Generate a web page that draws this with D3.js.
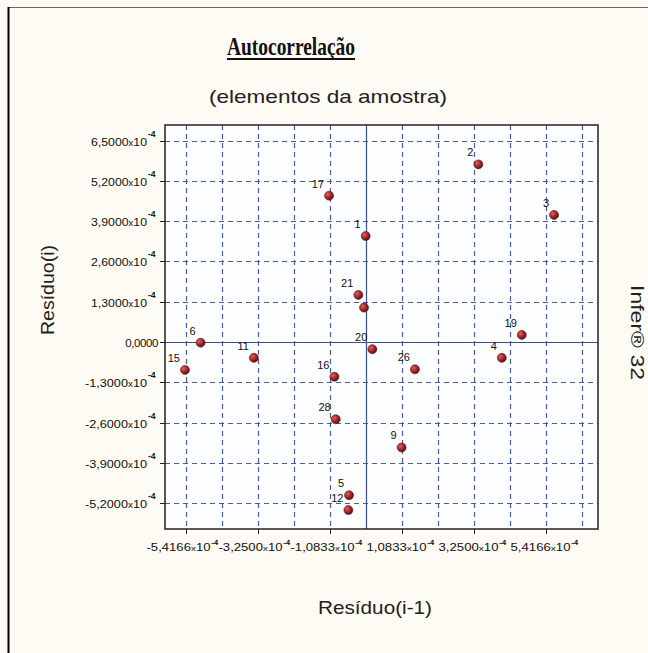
<!DOCTYPE html>
<html><head><meta charset="utf-8">
<script src="https://cdn.jsdelivr.net/npm/d3@7"></script>
<style>html,body{margin:0;padding:0;background:#fdfbf3;}svg{display:block;}</style>
</head><body>
<svg id="c" width="648" height="653"></svg>
<script>
// values in units of 1e-4
const labels = ["1","2","3","4","5","6","9","11","12","15","16","17","19","20","21","","26","28"];
const xVals  = [-0.01,3.375,5.65,4.08,-0.51,-4.97,1.07,-3.37,-0.53,-5.44,-0.95,-1.11,4.68,0.19,-0.23,-0.06,1.47,-0.91];
const yVals  = [3.42,5.73,4.10,-0.51,-4.94,-0.02,-3.40,-0.51,-5.42,-0.90,-1.12,4.72,0.23,-0.23,1.52,1.11,-0.88,-2.49];
const yTicks = [-5.2,-3.9,-2.6,-1.3,0,1.3,2.6,3.9,5.2,6.5];
const yTickText = ["-5,2000","-3,9000","-2,6000","-1,3000","0,0000","1,3000","2,6000","3,9000","5,2000","6,5000"];
const xTicks = [-5.4166,-3.25,-1.0833,1.0833,3.25,5.4166];
const xTickText = ["-5,4166","-3,2500","-1,0833","1,0833","3,2500","5,4166"];
const xGrid = [-5.4166,-4.3333,-3.25,-2.1666,-1.0833,1.0833,2.1666,3.25,4.3333,5.4166,6.5];

const svg = d3.select("#c");
const L=165,R=598,T=125,B=529;
const x = d3.scaleLinear().domain([-6.04,6.97]).range([L,R]);
const y = d3.scaleLinear().domain([-6.03,7.0]).range([B,T]);
const gridCol="#4b5b9c";

// frame
svg.append("line").attr("x1",8).attr("x2",648).attr("y1",7.5).attr("y2",7.5).attr("stroke","#666").attr("stroke-width",1);
svg.append("line").attr("x1",8.5).attr("x2",8.5).attr("y1",7).attr("y2",653).attr("stroke","#000").attr("stroke-width",2);

const defs=svg.append("defs");
const g=defs.append("radialGradient").attr("id","ball").attr("cx","35%").attr("cy","35%").attr("r","65%");
g.append("stop").attr("offset","0%").attr("stop-color","#e06060");
g.append("stop").attr("offset","55%").attr("stop-color","#a52a2e");
g.append("stop").attr("offset","100%").attr("stop-color","#5e1215");

// title
svg.append("text").attr("x",227).attr("y",55)
 .attr("font-family","Liberation Serif, serif").attr("font-weight","bold").attr("font-size",25).attr("fill","#111")
 .attr("textLength",128).attr("lengthAdjust","spacingAndGlyphs").text("Autocorrelação");
svg.append("rect").attr("x",227).attr("y",58).attr("width",128).attr("height",2).attr("fill","#111");
svg.append("text").attr("x",209).attr("y",103)
 .attr("font-family","Liberation Sans, Arial, sans-serif").attr("font-size",19).attr("fill","#222")
 .attr("textLength",238).attr("lengthAdjust","spacingAndGlyphs").text("(elementos da amostra)");

// plot bg
svg.append("rect").attr("x",L).attr("y",T).attr("width",R-L).attr("height",B-T).attr("fill","#fcfdff");

// grid
svg.append("g").selectAll("line").data(yTicks.filter(d=>d!==0)).join("line")
 .attr("x1",L).attr("x2",R).attr("y1",d=>Math.round(y(d))+0.5).attr("y2",d=>Math.round(y(d))+0.5)
 .attr("stroke",gridCol).attr("stroke-width",1.2).attr("stroke-dasharray","5,4");
svg.append("g").selectAll("line").data(xGrid).join("line")
 .attr("y1",T).attr("y2",B).attr("x1",d=>Math.round(x(d))+0.5).attr("x2",d=>Math.round(x(d))+0.5)
 .attr("stroke",gridCol).attr("stroke-width",1.2).attr("stroke-dasharray","5,4");
// zero axes
svg.append("line").attr("x1",L).attr("x2",R).attr("y1",Math.round(y(0))+0.5).attr("y2",Math.round(y(0))+0.5).attr("stroke","#3d4f90").attr("stroke-width",1.2);
svg.append("line").attr("y1",T).attr("y2",B).attr("x1",Math.round(x(0))+0.5).attr("x2",Math.round(x(0))+0.5).attr("stroke","#3d4f90").attr("stroke-width",1.2);

// border
svg.append("rect").attr("x",L).attr("y",T).attr("width",R-L).attr("height",B-T).attr("fill","none").attr("stroke","#222").attr("stroke-width",1.5);

// y ticks
const fnt="Liberation Sans, Arial, sans-serif";
const yt=svg.append("g");
yTicks.forEach((d,i)=>{
  const py=Math.round(y(d))+0.5;
  yt.append("line").attr("x1",L-5).attr("x2",L).attr("y1",py).attr("y2",py).attr("stroke","#222");
  if(d===0){
    yt.append("text").attr("x",L-7).attr("y",py+4).attr("text-anchor","end").attr("font-family",fnt).attr("font-size",11.5).attr("fill","#111")
      .attr("letter-spacing",-0.4).text(yTickText[i]);
  } else {
    const w = d<0 ? 62 : 56;
    const t=yt.append("text").attr("x",L-18-w).attr("y",py+4).attr("font-family",fnt).attr("font-size",11.5).attr("fill","#111")
      .attr("textLength",w).attr("lengthAdjust","spacingAndGlyphs");
    t.append("tspan").text(yTickText[i]);
    t.append("tspan").attr("font-size",9).text("x");
    t.append("tspan").text("10");
    yt.append("text").attr("x",L-17).attr("y",py-5).attr("font-family",fnt).attr("font-size",8.5).attr("font-weight","bold").attr("fill","#111").text("-4");
  }
});
// x ticks
const xt=svg.append("g");
xTicks.forEach((d,i)=>{
  const px=Math.round(x(d))+0.5;
  xt.append("line").attr("x1",px).attr("x2",px).attr("y1",B).attr("y2",B+5).attr("stroke","#222");
  const w = d<0 ? 64 : 60;
  const t=xt.append("text").attr("x",px-40).attr("y",551).attr("font-family",fnt).attr("font-size",10.5).attr("fill","#111")
    .attr("textLength",w).attr("lengthAdjust","spacingAndGlyphs");
  if(d>0) t.attr("x",px-36);
  t.append("tspan").text(xTickText[i]);
  t.append("tspan").attr("font-size",8).text("x");
  t.append("tspan").text("10");
  const bb=t.node().getBBox();
  xt.append("text").attr("x",bb.x+bb.width+0.5).attr("y",545).attr("font-family",fnt).attr("font-size",8).attr("font-weight","bold").attr("fill","#111").text("-4");
});

// axis titles
svg.append("text").attr("x",318).attr("y",614).attr("font-family",fnt).attr("font-size",18).attr("fill","#222")
 .attr("textLength",114).attr("lengthAdjust","spacingAndGlyphs").text("Resíduo(i-1)");
svg.append("text").attr("transform","translate(54,335) rotate(-90)").attr("font-family",fnt).attr("font-size",18).attr("fill","#222")
 .attr("textLength",90).attr("lengthAdjust","spacingAndGlyphs").text("Resíduo(i)");
svg.append("text").attr("transform","translate(631,285) rotate(90)").attr("font-family",fnt).attr("font-size",18).attr("fill","#222")
 .attr("textLength",95).attr("lengthAdjust","spacingAndGlyphs").text("Infer® 32");

// points
const pts=d3.range(labels.length);
svg.append("g").selectAll("circle").data(pts).join("circle")
 .attr("cx",i=>x(xVals[i])).attr("cy",i=>y(yVals[i])).attr("r",4.5).attr("fill","url(#ball)").attr("stroke","#6a1518").attr("stroke-width",0.6);
svg.append("g").selectAll("text").data(pts.filter(i=>labels[i]!=="")).join("text")
 .attr("x",i=>x(xVals[i])-5).attr("y",i=>y(yVals[i])-8).attr("text-anchor","end")
 .attr("font-family",fnt).attr("font-size",11).attr("fill","#111").text(i=>labels[i]);
</script>
</body></html>
